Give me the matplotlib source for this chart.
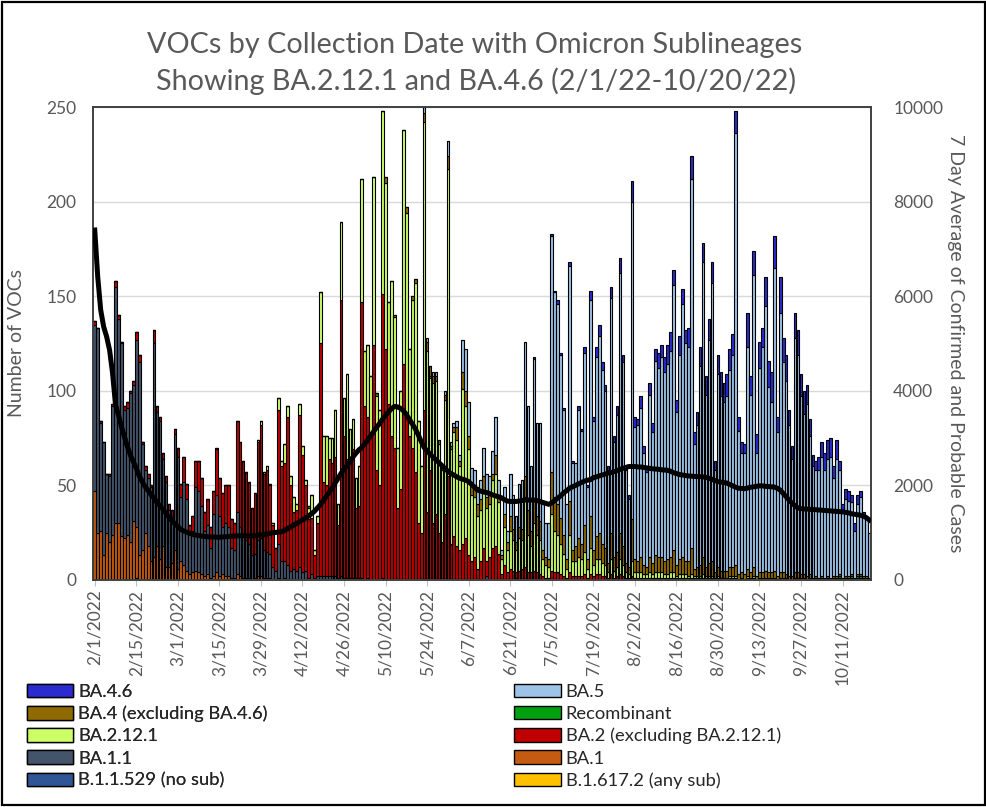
import numpy as np
import matplotlib
matplotlib.use("Agg")
import matplotlib.pyplot as plt
from matplotlib.patches import Patch, Rectangle

plt.rcParams['font.family'] = ['Lato', 'DejaVu Sans']

# ---------------- data (daily, 2/1/2022 .. 10/20/2022) ----------------
tick_labels = ["2/1/2022", "2/15/2022", "3/1/2022", "3/15/2022", "3/29/2022", "4/12/2022",
               "4/26/2022", "5/10/2022", "5/24/2022", "6/7/2022", "6/21/2022", "7/5/2022",
               "7/19/2022", "8/2/2022", "8/16/2022", "8/30/2022", "9/13/2022", "9/27/2022",
               "10/11/2022"]
tick_days = [0, 14, 28, 42, 56, 70, 84, 98, 112, 126, 140, 154, 168, 182, 196, 210, 224, 238, 252]

b16172 = [0]*14 + [1] + [0]*247

b11529 = ([0]*91 + [0, 0, 0, 0, 0, 0, 1] + [0]*28 + [0, 0, 0, 0, 0, 0, 2] + [0]*7
          + [0, 0, 1, 0, 0, 0, 0] + [0]*115)

ba1 = ([47, 25, 26, 13, 25, 20, 24,
        30, 30, 23, 22, 24, 20, 31,
        27, 13, 16, 25, 18, 10, 12,
        18, 11, 18, 7, 7, 9, 16,
        6, 10, 8, 5, 3, 4, 5,
        4, 3, 2, 3, 1, 2, 4,
        2, 3, 2, 2, 1, 1, 3,
        2, 1, 1, 1, 0, 1, 2,
        2, 1, 1, 1, 0, 0, 1,
        0, 1, 0, 0, 0, 0, 0] + [0]*192)

ba11 = ([88, 108, 57, 60, 31, 35, 68,
         125, 108, 102, 68, 67, 79, 72,
         99, 102, 56, 33, 36, 39, 113,
         71, 73, 46, 45, 30, 25, 61,
         59, 34, 44, 38, 23, 22, 44,
         43, 36, 24, 26, 16, 33, 41,
         32, 25, 28, 26, 16, 15, 33,
         26, 22, 20, 18, 13, 13, 19,
         20, 15, 14, 13, 7, 5, 18,
         10, 9, 8, 5, 6, 5, 7,
         4, 5, 1, 3, 1, 2, 2,
         2, 2, 2, 2, 2, 1, 2,
         1, 1, 1, 1, 1, 1, 1,
         0, 1, 0, 0, 0, 0, 0] + [0]*164)

ba2 = [2, 0, 1, 0, 0, 1, 1,
       3, 2, 1, 2, 3, 1, 2,
       4, 4, 1, 2, 2, 1, 7,
       3, 2, 3, 3, 3, 3, 3,
       5, 7, 13, 8, 3, 8, 14,
       16, 15, 10, 14, 11, 12, 24,
       20, 18, 20, 22, 15, 14, 48,
       45, 40, 36, 33, 25, 32, 52,
       60, 40, 43, 36, 22, 12, 71,
       50, 52, 78, 45, 30, 32, 80,
       62, 45, 31, 30, 12, 28, 123,
       50, 48, 62, 60, 63, 28, 146,
       75, 63, 62, 68, 37, 38, 146,
       92, 85, 78, 124, 58, 50, 150,
       122, 93, 76, 70, 38, 48, 114,
       86, 76, 70, 57, 30, 25, 90,
       36, 58, 30, 35, 25, 20, 35,
       55, 19, 23, 18, 16, 19, 22,
       13, 10, 12, 6, 10, 17, 8,
       12, 17, 18, 14, 3, 8, 4,
       6, 5, 3, 5, 6, 7, 4,
       4, 5, 4, 3, 2, 1, 1,
       5, 4, 4, 3, 2, 1, 4,
       2, 2, 2, 2, 3, 1, 3,
       2, 3, 3, 2, 2, 1, 3,
       1, 2, 3, 2, 1, 1, 2,
       1, 1, 1, 1, 1, 1, 1,
       1, 1, 1, 1, 1, 1, 1,
       1, 1, 1, 1, 1, 1, 1,
       1, 1, 1, 1, 1, 1, 0,
       1, 1, 0, 1, 1, 1, 1,
       0, 1, 0, 1, 1, 1, 0,
       1, 1, 1, 1, 1, 1, 0,
       1, 1, 1, 0, 0, 1, 1,
       1, 1, 0, 1, 0, 1, 0,
       1, 0, 1, 0, 1, 0, 1,
       0, 0, 0, 1, 0, 1, 1,
       0, 0, 0]

ba2121 = ([0]*49 +
          [0, 0, 0, 0, 0, 0, 1,
           2, 1, 2, 1, 1, 0, 6,
           3, 10, 6, 5, 8, 3, 6,
           5, 3, 6, 12, 3, 4, 27,
           24, 26, 11, 13, 25, 11, 41,
           20, 45, 17, 16, 16, 21, 65,
           29, 38, 30, 89, 39, 40, 97,
           88, 54, 82, 69, 32, 52, 124,
           108, 46, 78, 100, 54, 35, 152,
           85, 49, 74, 70, 47, 38, 60,
           162, 50, 55, 56, 44, 82, 70,
           56, 35, 32, 28, 27, 30, 28,
           28, 36, 38, 27, 8, 20, 12,
           20, 16, 12, 17, 15, 37, 20,
           14, 25, 20, 18, 9, 7, 6,
           30, 22, 20, 16, 12, 5, 20,
           8, 8, 10, 9, 12, 5, 14,
           6, 8, 8, 7, 6, 3, 8,
           4, 5, 8, 6, 3, 2, 8,
           3, 3, 3, 2, 2, 3, 2,
           3, 3, 3, 2, 2, 3, 3,
           1, 2, 2, 2, 1, 2, 1,
           1, 1, 2, 1, 1, 1, 1,
           1, 0, 1, 0, 1, 1, 1,
           0, 0, 0, 1, 0, 1, 0] + [0]*38)

recombinant = ([0]*35 + [0, 0, 0, 0, 0, 0, 1] + [0]*28 + [0, 0, 1, 0, 0, 0, 0] + [0]*14
               + [0, 0, 0, 0, 2, 0, 0] + [0]*14 + [0, 1, 0, 0, 0, 0, 0] + [0]*126
               + [0, 0, 0, 0, 0, 1, 1] + [0, 1, 1, 1, 1, 1, 1] + [1, 1, 1])

ba4 = ([0]*98 +
       [3, 0, 0, 1, 0, 0, 0,
        3, 0, 2, 2, 0, 0, 5,
        5, 5, 4, 3, 2, 2, 3,
        7, 2, 3, 7, 3, 9, 8,
        7, 5, 6, 6, 6, 8, 6,
        5, 3, 10, 4, 2, 7, 4,
        8, 6, 4, 6, 6, 11, 13,
        8, 13, 10, 10, 5, 4, 4,
        22, 18, 16, 14, 10, 5, 18,
        6, 8, 10, 8, 14, 5, 17,
        8, 12, 14, 10, 9, 5, 14,
        7, 8, 14, 10, 5, 4, 22,
        7, 6, 8, 5, 4, 8, 6,
        9, 8, 8, 7, 8, 8, 12,
        6, 8, 9, 7, 8, 14, 4,
        5, 6, 9, 5, 7, 8, 3,
        5, 4, 4, 4, 5, 5, 6,
        3, 3, 3, 4, 3, 5, 2,
        3, 3, 4, 3, 3, 4, 2,
        3, 3, 2, 2, 2, 3, 3,
        2, 2, 2, 2, 1, 1, 1,
        1, 1, 1, 1, 1, 1, 1,
        1, 1, 1, 1, 0, 1, 1,
        1, 1, 0])

ba5 = ([0]*105 +
       [0, 0, 0, 0, 0, 0, 3,
        2, 0, 2, 2, 0, 0, 2,
        8, 2, 2, 3, 3, 17, 22,
        18, 9, 8, 9, 10, 15, 12,
        10, 12, 20, 8, 3, 14, 6,
        22, 18, 14, 23, 26, 71, 55,
        34, 74, 49, 52, 24, 18, 19,
        125, 108, 106, 86, 66, 29, 124,
        46, 44, 68, 60, 91, 38, 114,
        68, 95, 104, 92, 83, 49, 124,
        61, 72, 137, 97, 49, 36, 168,
        70, 72, 79, 59, 50, 86, 69,
        103, 100, 106, 100, 103, 109, 140,
        81, 108, 134, 115, 113, 195, 66,
        75, 105, 156, 91, 118, 147, 54,
        102, 92, 89, 92, 104, 112, 228,
        76, 63, 64, 117, 94, 154, 65,
        108, 119, 140, 98, 90, 160, 76,
        137, 111, 102, 80, 62, 124, 115,
        94, 85, 91, 73, 59, 56, 57,
        63, 57, 62, 64, 52, 62, 55,
        36, 41, 40, 38, 25, 37, 41,
        32, 31, 24])

ba46 = ([0]*147 +
        [0, 1, 0, 0, 0, 0, 0,
         1, 1, 2, 1, 1, 0, 2,
         1, 0, 2, 1, 3, 1, 5,
         2, 5, 6, 4, 3, 2, 6,
         3, 5, 8, 4, 2, 2, 11,
         5, 3, 6, 4, 3, 6, 5,
         6, 8, 6, 8, 10, 10, 8,
         6, 10, 8, 7, 10, 12, 6,
         7, 10, 10, 10, 11, 11, 5,
         10, 13, 10, 12, 11, 11, 12,
         7, 6, 5, 18, 10, 13, 10,
         14, 10, 15, 14, 16, 17, 8,
         19, 13, 14, 8, 7, 13, 13,
         12, 12, 10, 9, 6, 5, 7,
         8, 9, 10, 10, 6, 10, 5,
         3, 5, 5, 4, 4, 5, 3,
         2, 0, 0])

avg7 = [7400, 6410, 5710, 5355, 5145, 4860, 4370, 3700, 3490, 3240,
        3030, 2820, 2640, 2500, 2360, 2200, 2080, 1970, 1890, 1800,
        1730, 1635, 1565, 1495, 1410, 1325, 1255, 1185, 1130, 1070,
        1035, 1010, 985, 965, 950, 940, 930, 920, 915, 910,
        910, 905, 905, 910, 915, 920, 925, 930, 935, 935,
        935, 935, 935, 935, 940, 945, 950, 960, 970, 985,
        1000, 1005, 1015, 1020, 1050, 1085, 1120, 1160, 1195, 1230,
        1270, 1310, 1350, 1400, 1450, 1520, 1590, 1680, 1760, 1850,
        1950, 2050, 2150, 2255, 2340, 2420, 2500, 2600, 2680, 2750,
        2800, 2880, 2960, 3050, 3140, 3230, 3310, 3400, 3480, 3550,
        3620, 3670, 3660, 3630, 3580, 3500, 3400, 3300, 3200, 3070,
        2930, 2800, 2730, 2660, 2600, 2540, 2480, 2420, 2360, 2300,
        2250, 2220, 2180, 2150, 2130, 2110, 2080, 2020, 1960, 1900,
        1880, 1860, 1850, 1830, 1800, 1780, 1760, 1740, 1700, 1670,
        1660, 1660, 1660, 1670, 1680, 1690, 1690, 1690, 1690, 1680,
        1660, 1640, 1620, 1600, 1630, 1680, 1730, 1780, 1840, 1890,
        1940, 1970, 2000, 2030, 2060, 2090, 2110, 2120, 2160, 2180,
        2200, 2220, 2240, 2260, 2270, 2290, 2310, 2340, 2360, 2380,
        2400, 2400, 2400, 2390, 2390, 2380, 2370, 2360, 2350, 2345,
        2340, 2330, 2325, 2320, 2300, 2270, 2250, 2230, 2220, 2210,
        2200, 2195, 2190, 2185, 2185, 2180, 2170, 2150, 2130, 2100,
        2080, 2070, 2060, 2050, 2020, 1990, 1960, 1940, 1935, 1930,
        1945, 1960, 1970, 1980, 1990, 1990, 1980, 1975, 1970, 1965,
        1940, 1900, 1830, 1760, 1690, 1620, 1570, 1520, 1510, 1500,
        1500, 1495, 1490, 1485, 1480, 1475, 1470, 1465, 1460, 1455,
        1450, 1445, 1440, 1430, 1420, 1400, 1390, 1380, 1370, 1350,
        1320, 1270]

series = [
    ("B.1.617.2 (any sub)", b16172, "#FFC000"),
    ("B.1.1.529 (no sub)", b11529, "#2F5597"),
    ("BA.1", ba1, "#C55A11"),
    ("BA.1.1", ba11, "#44546A"),
    ("BA.2 (excluding BA.2.12.1)", ba2, "#C00000"),
    ("BA.2.12.1", ba2121, "#CCFF66"),
    ("Recombinant", recombinant, "#00A011"),
    ("BA.4 (excluding BA.4.6)", ba4, "#8F6A00"),
    ("BA.5", ba5, "#9DC3E6"),
    ("BA.4.6", ba46, "#2B2BD0"),
]

n = len(avg7)
days = np.arange(n)

fig = plt.figure(figsize=(9.87, 8.07), dpi=100)
ax = fig.add_axes([0.0942, 0.2813, 0.7883, 0.5861])

bottom = np.zeros(n)
colors = {}
for name, vals, col in series:
    v = np.array(vals, dtype=float)
    assert len(v) == n, (name, len(v))
    ax.bar(days, v, bottom=bottom, width=0.9, color=col, edgecolor="black",
           linewidth=0.8, zorder=2)
    bottom += v
    colors[name] = col

ax.set_xlim(-0.6, n - 0.4)
ax.set_ylim(0, 250)
ax.set_yticks(range(0, 251, 50))
ax.yaxis.grid(True, color="#D9D9D9", linewidth=1.0, zorder=0)
ax.set_axisbelow(True)
ax.set_xticks(tick_days)
ax.set_xticklabels(tick_labels, rotation=90, fontsize=12.5, color="#595959")
ax.tick_params(axis="x", length=4, color="#BFBFBF", pad=3)
ax.tick_params(axis="y", length=0, labelsize=12.5, labelcolor="#595959", pad=12)
ax.set_ylabel("Number of VOCs", fontsize=14, color="#595959")
ax.yaxis.set_label_coords(-0.087, 0.5)
for s in ax.spines.values():
    s.set_color("#404040")
    s.set_linewidth(1.2)

ax2 = ax.twinx()
ax2.plot(days, avg7, color="black", linewidth=3.6, solid_joinstyle="round", zorder=5)
ax2.set_ylim(0, 10000)
ax2.set_yticks(range(0, 10001, 2000))
ax2.tick_params(axis="y", length=0, labelsize=12.5, labelcolor="#595959", pad=16)
ax2.set_ylabel("7 Day Average of Confirmed and Probable Cases", fontsize=14,
               color="#595959", rotation=270)
ax2.yaxis.set_label_coords(1.12, 0.5)
for s in ax2.spines.values():
    s.set_color("#404040")
    s.set_linewidth(1.2)

fig.text(0.481, 0.944, "VOCs by Collection Date with Omicron Sublineages",
         ha="center", va="center", fontsize=20.7, color="#595959")
fig.text(0.482, 0.900, "Showing BA.2.12.1 and BA.4.6 (2/1/22-10/20/22)",
         ha="center", va="center", fontsize=20.7, color="#595959")

col1 = ["BA.4.6", "BA.4 (excluding BA.4.6)", "BA.2.12.1", "BA.1.1", "B.1.1.529 (no sub)"]
col2 = ["BA.5", "Recombinant", "BA.2 (excluding BA.2.12.1)", "BA.1", "B.1.617.2 (any sub)"]
leg_kw = dict(frameon=False, fontsize=13.2, handlelength=2.55, handleheight=0.75,
              handletextpad=0.25, labelspacing=0.33, borderpad=0, borderaxespad=0,
              loc="upper left", labelcolor="#262626")
h1 = [Patch(facecolor=colors[k], edgecolor="black", linewidth=1.0) for k in col1]
h2 = [Patch(facecolor=colors[k], edgecolor="black", linewidth=1.0) for k in col2]
leg1 = fig.legend(h1, col1, bbox_to_anchor=(0.027, 0.153), **leg_kw)
fig.add_artist(leg1)
fig.legend(h2, col2, bbox_to_anchor=(0.521, 0.153), **leg_kw)

fig.add_artist(Rectangle((0.002, 0.002), 0.996, 0.996, transform=fig.transFigure,
                         fill=False, edgecolor="black", linewidth=1.6))

fig.savefig("out.png", dpi=100)
